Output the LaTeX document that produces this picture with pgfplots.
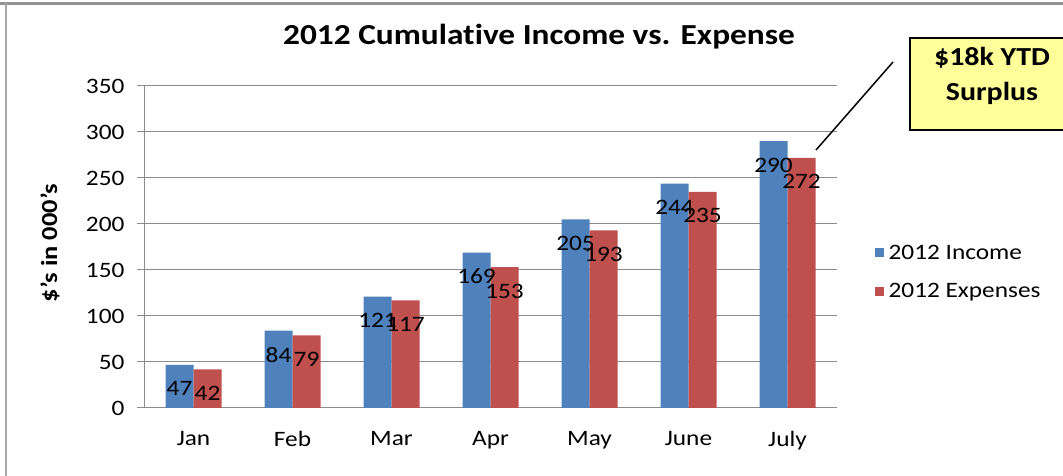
\documentclass[border=0pt]{standalone}
\usepackage{fontspec}
\setmainfont{Carlito}[FakeStretch=1.15, Ligatures={TeX,NoCommon}]
\usepackage{pgfplots}
\pgfplotsset{compat=1.18}
\definecolor{inc}{HTML}{4F81BD}
\definecolor{expc}{HTML}{C0504D}
\definecolor{gridc}{HTML}{8C8C8C}
\definecolor{callout}{HTML}{FFFF99}
\begin{document}
\begin{tikzpicture}[x=1pt,y=1pt]
\useasboundingbox (0,0) rectangle (1063,476);
\clip (0,0) rectangle (1063,476);
\draw[gray!85, line width=3pt] (0,472) -- (1063,472);
\draw[gray!70, line width=1.2pt] (6,0) -- (6,473);
\begin{axis}[
  at={(144pt,68pt)}, anchor=south west,
  scale only axis, width=693pt, height=322pt,
  xmin=-0.5, xmax=6.5, ymin=0, ymax=350,
  ybar=0pt, bar width=28pt,
  axis x line*=bottom, axis y line*=left,
  axis line style={gridc, line width=1pt},
  ytick={0,50,...,350}, ymajorgrids, grid style={gridc, line width=1pt},
  tick align=outside, major tick length=7pt,
  ytick style={gridc, line width=1pt},
  xtick={0,...,6}, xticklabels={Jan,Feb,Mar,Apr,May,June,July},
  xtick style={draw=none},
  ticklabel style={font=\fontsize{22}{22}\selectfont, text=black},
  yticklabel style={xshift=-9pt},
  xticklabel style={yshift=-13pt},
  /pgf/number format/assume math mode=true,
  title={2012 Cumulative Income vs. Expense},
  title style={at={(axis description cs:0.570,1.1335)}, anchor=center, font=\bfseries\fontsize{29}{29}\selectfont},
  ylabel={\$'s in 000's},
  ylabel style={at={(axis description cs:-0.1355,0.512)}, anchor=center, font=\bfseries\fontsize{23}{23}\selectfont},
  legend style={at={(axis description cs:1.054,0.422)}, anchor=west, draw=none, fill=none,
    font=\fontsize{22}{22}\selectfont, row sep=13pt, inner sep=0pt, nodes={inner sep=5pt}},
  legend cell align=left,
  legend image code/.code={\fill[#1] (0pt,-4.5pt) rectangle (9pt,4.5pt);},
  nodes near coords,
  every node near coord/.append style={anchor=center, yshift=-24pt, text=black, font=\fontsize{22}{22}\selectfont},
]
\addplot[fill=inc, draw=none] coordinates {(0,47) (1,84) (2,121) (3,169) (4,205) (5,244) (6,290)};
\addplot[fill=expc, draw=none] coordinates {(0,42) (1,79) (2,117) (3,153) (4,193) (5,235) (6,272)};
\legend{2012 Income, 2012 Expenses}
\foreach \b in {0.5,1.5,2.5,3.5,4.5,5.5,6.5} {
  \edef\tmp{\noexpand\draw[gridc, line width=1pt] (axis cs:\b,0) -- ++(0,-7pt);}\tmp
}
\end{axis}
\draw[black, line width=1.5pt] (893,414) -- (816,326);
\filldraw[fill=callout, draw=black, line width=2pt] (910,438) rectangle (1075,346);
\node[font=\bfseries\fontsize{26}{26}\selectfont] at (992,418) {\$18k YTD};
\node[font=\bfseries\fontsize{26}{26}\selectfont] at (992,383) {Surplus};
\end{tikzpicture}
\end{document}
